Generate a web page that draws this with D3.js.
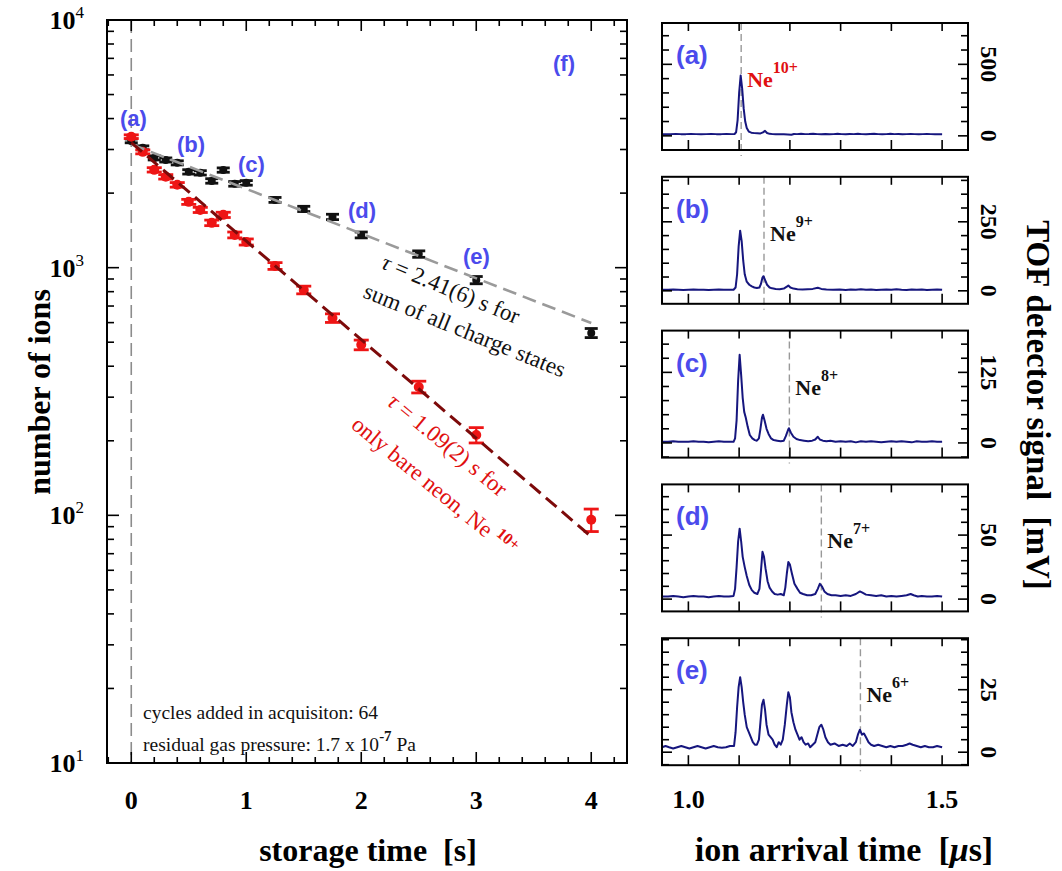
<!DOCTYPE html>
<html><head><meta charset="utf-8">
<script src="https://cdn.jsdelivr.net/npm/d3@7"></script>
<style>body{margin:0;background:#fff}svg{display:block}text{white-space:pre}</style>
</head><body>
<svg id="c" width="1062" height="871"></svg>
<script>
// ---------- DATA ----------
const sumTimes  = [0, 0.1, 0.2, 0.3, 0.4, 0.5, 0.6, 0.7, 0.8, 0.9, 1.0, 1.25, 1.5, 1.75, 2.0, 2.5, 3.0, 4.0];
const sumCounts = [3250, 3048, 2775, 2722, 2650, 2437, 2415, 2240, 2478, 2180, 2200, 1878, 1727, 1603, 1356, 1135, 891, 545];
const sumErrors = [57, 55, 53, 52, 51, 49, 49, 47, 50, 47, 47, 43, 42, 40, 37, 34, 30, 23];
const bareTimes  = [0, 0.1, 0.2, 0.3, 0.4, 0.5, 0.6, 0.7, 0.8, 0.9, 1.0, 1.25, 1.5, 1.75, 2.0, 2.5, 3.0, 4.0];
const bareCounts = [3380, 2935, 2483, 2327, 2160, 1844, 1711, 1517, 1634, 1356, 1270, 1016, 813, 626, 488, 330, 211, 96];
const bareErrors = [58, 54, 50, 48, 46, 43, 41, 39, 40, 37, 36, 32, 29, 25, 22, 18, 15, 10];
const sumFitTimes = [0, 4], sumFitCounts = [3150, 598];
const bareFitTimes = [0, 4], bareFitCounts = [3200, 82];
const xMajorTicks = [0, 1, 2, 3, 4];
const yDecades = [10, 100, 1000, 10000];
const yDecadeExp = ["1", "2", "3", "4"];
const mainLetters = ["(a)", "(b)", "(c)", "(d)", "(e)", "(f)"];

const panelLetters = ["(a)", "(b)", "(c)", "(d)", "(e)"];
const ionCharge = ["10+", "9+", "8+", "7+", "6+"];
const ionColors = ["#e01010", "#111", "#111", "#111", "#111"];
const ionArrival = [1.104, 1.149, 1.199, 1.262, 1.339];
const panelLabelValue = [500, 250, 125, 50, 25];
const panelMinorStep = [100, 50, 25, 10, 5];
const panelYDomain = [[-99, 789], [-47, 413], [-26, 199], [-9.6, 89.6], [-5.2, 45.6]];
const tofTicks = [1.0, 1.1, 1.2, 1.3, 1.4, 1.5];
const tofTickLabels = ["1.0", "", "", "", "", "1.5"];

const traceA = [[0.948,12],[0.955,11],[0.965,12],[0.975,13],[0.985,12],[0.995,12],[1.005,13],[1.015,12],[1.025,11],[1.035,12],[1.045,13],[1.055,12],[1.065,12],[1.075,13],[1.085,12],[1.091,13],[1.094,25],[1.097,110],[1.100,300],[1.103,422],[1.106,330],[1.109,190],[1.112,100],[1.115,55],[1.119,30],[1.124,22],[1.130,19],[1.136,18],[1.142,17],[1.147,24],[1.151,35],[1.155,20],[1.160,14],[1.166,12],[1.172,11],[1.180,12],[1.188,11],[1.196,10],[1.203,8],[1.208,13],[1.214,12],[1.222,14],[1.230,12],[1.238,13],[1.246,15],[1.254,12],[1.262,11],[1.270,13],[1.278,11],[1.286,12],[1.294,14],[1.302,12],[1.310,11],[1.318,13],[1.326,12],[1.334,14],[1.342,12],[1.350,11],[1.358,13],[1.366,14],[1.374,12],[1.382,11],[1.390,12],[1.398,14],[1.406,12],[1.414,13],[1.422,11],[1.430,12],[1.438,13],[1.446,12],[1.454,11],[1.462,12],[1.470,13],[1.478,12],[1.486,11],[1.494,12],[1.500,12]];
const traceB = [[0.948,4],[0.96,4],[0.97,5],[0.98,4],[0.99,3],[1.00,4],[1.01,5],[1.02,4],[1.03,4],[1.04,3],[1.05,4],[1.06,5],[1.07,4],[1.08,4],[1.089,4],[1.093,12],[1.096,60],[1.099,160],[1.102,218],[1.105,180],[1.108,110],[1.111,60],[1.115,33],[1.120,22],[1.125,16],[1.130,12],[1.135,10],[1.140,12],[1.143,25],[1.146,48],[1.148,53],[1.151,40],[1.155,22],[1.160,12],[1.165,9],[1.172,7],[1.180,6],[1.188,8],[1.194,15],[1.197,19],[1.201,12],[1.207,8],[1.215,6],[1.225,5],[1.235,6],[1.245,7],[1.255,11],[1.262,7],[1.272,5],[1.285,4],[1.298,5],[1.31,3],[1.32,5],[1.33,4],[1.34,6],[1.35,4],[1.36,5],[1.37,3],[1.38,4],[1.39,5],[1.40,4],[1.41,6],[1.42,4],[1.43,3],[1.44,5],[1.45,4],[1.46,5],[1.47,3],[1.48,4],[1.49,5],[1.50,4]];
const traceC = [[0.948,2],[0.96,2],[0.97,3],[0.98,2],[0.99,2],[1.00,2],[1.01,3],[1.02,2],[1.03,2],[1.04,1],[1.05,2],[1.06,3],[1.07,2],[1.08,2],[1.089,2],[1.092,8],[1.095,40],[1.098,110],[1.101,156],[1.104,120],[1.107,80],[1.110,55],[1.113,45],[1.117,28],[1.121,14],[1.126,8],[1.131,5],[1.135,4],[1.139,8],[1.142,25],[1.145,45],[1.147,50],[1.150,40],[1.154,25],[1.158,16],[1.163,8],[1.168,5],[1.175,4],[1.182,3],[1.188,4],[1.192,12],[1.196,22],[1.198,26],[1.202,18],[1.207,11],[1.213,7],[1.220,5],[1.228,4],[1.236,3],[1.244,4],[1.250,6],[1.255,11],[1.259,6],[1.265,4],[1.272,3],[1.28,4],[1.29,2],[1.30,3],[1.31,2],[1.32,3],[1.33,1],[1.34,3],[1.35,2],[1.36,3],[1.37,2],[1.38,1],[1.39,2],[1.40,3],[1.41,2],[1.42,3],[1.43,2],[1.44,1],[1.45,3],[1.46,2],[1.47,2],[1.48,3],[1.49,2],[1.50,2]];
const traceD = [[0.948,2],[0.96,2],[0.97,2.5],[0.98,2],[0.99,1.5],[1.00,2],[1.01,2.5],[1.02,2],[1.03,2],[1.04,1.5],[1.05,2],[1.06,2.5],[1.07,2],[1.08,2],[1.089,2.5],[1.092,8],[1.095,25],[1.098,45],[1.101,55],[1.104,45],[1.107,33],[1.111,25],[1.115,18],[1.120,11],[1.125,7],[1.130,5],[1.136,4],[1.140,8],[1.143,22],[1.146,37],[1.149,33],[1.152,24],[1.156,14],[1.160,9],[1.165,6],[1.170,4],[1.176,3.5],[1.182,4],[1.188,3],[1.191,9],[1.194,20],[1.197,29],[1.200,27],[1.204,20],[1.209,12],[1.215,8],[1.220,5],[1.226,4],[1.234,3],[1.242,3],[1.250,4],[1.255,8],[1.259,12],[1.263,10],[1.268,6],[1.274,4],[1.282,3],[1.290,3],[1.300,2.5],[1.310,3],[1.320,2.5],[1.330,4],[1.338,6],[1.343,5],[1.350,3.5],[1.360,3],[1.370,2.5],[1.380,3],[1.390,2],[1.400,2.5],[1.410,2],[1.420,2.5],[1.430,3],[1.438,4],[1.444,3],[1.452,2],[1.460,2.5],[1.470,2],[1.480,2],[1.490,2.5],[1.500,2]];
const traceE = [[0.948,2],[0.955,2.5],[0.962,2],[0.970,1.5],[0.978,2],[0.986,2.5],[0.994,2],[1.002,1.5],[1.010,2],[1.018,2.5],[1.026,2],[1.034,1.5],[1.042,2],[1.050,2.5],[1.058,2],[1.066,1.8],[1.074,2],[1.082,2.5],[1.090,2.5],[1.093,8],[1.096,18],[1.099,26],[1.102,30],[1.105,26],[1.108,20],[1.111,15],[1.115,10],[1.119,8],[1.123,6],[1.127,4],[1.131,3],[1.135,3],[1.139,5],[1.142,12],[1.145,19],[1.148,21],[1.151,17],[1.154,11],[1.158,7],[1.162,6],[1.166,5],[1.170,3],[1.174,2],[1.178,4],[1.182,3],[1.186,5],[1.190,11],[1.194,19],[1.197,24],[1.200,22],[1.203,16],[1.207,12],[1.211,9],[1.215,7],[1.219,5],[1.223,6],[1.227,4],[1.231,3],[1.236,3.5],[1.240,2],[1.245,3],[1.250,4],[1.254,7],[1.258,10],[1.262,11],[1.266,9],[1.270,6],[1.275,4],[1.280,3],[1.288,3.5],[1.296,2.5],[1.304,3],[1.312,2.5],[1.318,3.5],[1.324,2.5],[1.330,4],[1.334,7],[1.338,9],[1.342,7],[1.346,7.5],[1.350,6],[1.355,4],[1.360,3],[1.366,2.5],[1.374,3],[1.382,2.5],[1.390,2],[1.398,2.5],[1.406,2],[1.414,2.5],[1.422,2.5],[1.430,3],[1.436,3.5],[1.442,3],[1.450,2.5],[1.458,2],[1.466,2.5],[1.474,2],[1.482,2],[1.490,2.5],[1.500,2]];
const traces = [traceA, traceB, traceC, traceD, traceE];

// ---------- DRAW ----------
const svg = d3.select('#c');
const serif = "'Liberation Serif','Times New Roman',serif";
const sans = "'Liberation Sans',Arial,sans-serif";
const blue = '#4b4bec';

// ===== main plot =====
const M = {l:107, t:20, r:627, b:763};
const x = d3.scaleLinear().domain([-0.211, 4.311]).range([M.l, M.r]);
const y = d3.scaleLog().domain([10, 10000]).range([M.b, M.t]);
const g = svg.append('g');

g.append('line').attr('x1', x(0)).attr('x2', x(0)).attr('y1', M.t).attr('y2', M.b)
  .attr('stroke', '#8c8c8c').attr('stroke-width', 1.6).attr('stroke-dasharray', '13,6');

function drawPoints(ts, ns, es, color, r, capW) {
  const pts = d3.range(ts.length).map(i => ({t: ts[i], n: ns[i], e: es[i]}));
  const gg = g.append('g');
  const sel = gg.selectAll('g').data(pts).join('g');
  sel.append('line').attr('x1', d => x(d.t)).attr('x2', d => x(d.t))
    .attr('y1', d => y(d.n - d.e)).attr('y2', d => y(d.n + d.e))
    .attr('stroke', color).attr('stroke-width', 2.2);
  [-1, 1].forEach(s => sel.append('line')
    .attr('x1', d => x(d.t) - capW / 2).attr('x2', d => x(d.t) + capW / 2)
    .attr('y1', d => y(d.n + s * d.e)).attr('y2', d => y(d.n + s * d.e))
    .attr('stroke', color).attr('stroke-width', 2.8));
  sel.append('circle').attr('cx', d => x(d.t)).attr('cy', d => y(d.n)).attr('r', r).attr('fill', color);
}
drawPoints(sumTimes, sumCounts, sumErrors, '#111', 4, 13);
drawPoints(bareTimes, bareCounts, bareErrors, '#ee1515', 5, 15);

const fline = d3.line().x(d => x(d[0])).y(d => y(d[1]));
g.append('path').datum(d3.zip(sumFitTimes, sumFitCounts)).attr('d', fline)
  .attr('fill', 'none').attr('stroke', '#9a9a9a').attr('stroke-width', 2.6).attr('stroke-dasharray', '14,7');
g.append('path').datum(d3.zip(bareFitTimes, bareFitCounts)).attr('d', fline)
  .attr('fill', 'none').attr('stroke', '#7d0a0a').attr('stroke-width', 3).attr('stroke-dasharray', '14,7');

// frame
g.append('rect').attr('x', M.l).attr('y', M.t).attr('width', M.r - M.l).attr('height', M.b - M.t)
  .attr('fill', 'none').attr('stroke', '#000').attr('stroke-width', 2);

// x ticks
const xMinor = d3.range(-0.2, 4.31, 0.2).map(v => Math.round(v * 10) / 10);
xMinor.forEach(v => {
  const major = xMajorTicks.includes(v);
  const L = major ? 11 : 6;
  g.append('line').attr('x1', x(v)).attr('x2', x(v)).attr('y1', M.b).attr('y2', M.b - L).attr('stroke', '#000').attr('stroke-width', 1.6);
  g.append('line').attr('x1', x(v)).attr('x2', x(v)).attr('y1', M.t).attr('y2', M.t + L).attr('stroke', '#000').attr('stroke-width', 1.6);
});
g.selectAll('.xl').data(xMajorTicks).join('text')
  .attr('x', d => x(d)).attr('y', 809).attr('text-anchor', 'middle')
  .attr('font-family', serif).attr('font-weight', 'bold').attr('font-size', 26).text(d => d);

// y ticks
yDecades.forEach((d, i) => {
  [M.l, M.r].forEach((xx, k) => {
    const s = k === 0 ? 1 : -1;
    g.append('line').attr('x1', xx).attr('x2', xx + s * 12).attr('y1', y(d)).attr('y2', y(d)).attr('stroke', '#000').attr('stroke-width', 1.6);
    if (d < 10000) d3.range(2, 10).forEach(m => {
      g.append('line').attr('x1', xx).attr('x2', xx + s * 7).attr('y1', y(d * m)).attr('y2', y(d * m)).attr('stroke', '#000').attr('stroke-width', 1.6);
    });
  });
  const t = g.append('text').attr('x', 84).attr('y', y(d) + 9).attr('text-anchor', 'end')
    .attr('font-family', serif).attr('font-weight', 'bold').attr('font-size', 26);
  t.append('tspan').text('10');
  t.append('tspan').attr('dy', -11).attr('font-size', 17).attr('font-weight', 'normal').text(yDecadeExp[i]);
});

// axis titles
g.append('text').attr('transform', 'translate(50,392) rotate(-90)').attr('text-anchor', 'middle')
  .attr('font-family', serif).attr('font-weight', 'bold').attr('font-size', 32).text('number of ions');
g.append('text').attr('x', 368).attr('y', 861).attr('text-anchor', 'middle')
  .attr('font-family', serif).attr('font-weight', 'bold').attr('font-size', 32).text('storage time  [s]');

// blue letters
const mainLetterPos = [[120,126],[177,152],[238,172],[348,218],[463,264],[553,71]];
mainLetters.forEach((l, i) => g.append('text').attr('x', mainLetterPos[i][0]).attr('y', mainLetterPos[i][1])
  .attr('font-family', sans).attr('font-weight', 'bold').attr('font-size', 22).attr('fill', blue).text(l));

// annotations
function tauText(tx, ty, ang, color, parts, size) {
  const t = g.append('text').attr('transform', `translate(${tx},${ty}) rotate(${ang})`)
    .attr('font-family', serif).attr('font-size', size).attr('fill', color);
  parts.forEach(p => {
    const s = t.append('tspan').text(p.s);
    if (p.it) s.attr('font-style', 'italic');
    if (p.dy) s.attr('dy', p.dy);
    if (p.dx) s.attr('dx', p.dx);
    if (p.fs) s.attr('font-size', p.fs);
    if (p.b) s.attr('font-weight', 'bold');
  });
}
tauText(380, 268, 22.5, '#111', [{s:'τ', it:true}, {s:' = 2.41(6) s for'}], 23);
tauText(362, 297, 22, '#111', [{s:'sum of all charge states'}], 23);
tauText(386, 404, 39.5, '#e01010', [{s:'τ', it:true}, {s:' = 1.09(2) s for'}], 23);
tauText(350, 427, 39.5, '#e01010', [{s:'only bare neon, Ne'}, {s:'10+', b:true, fs:16, dy:-9, dx:6}], 23);

g.append('text').attr('x', 143).attr('y', 719).attr('font-family', serif).attr('font-size', 19.5).attr('fill', '#111')
  .text('cycles added in acquisiton: 64');
const note2 = g.append('text').attr('x', 143).attr('y', 751).attr('font-family', serif).attr('font-size', 19.5).attr('fill', '#111');
note2.append('tspan').text('residual gas pressure: 1.7 x 10');
note2.append('tspan').attr('dy', -10).attr('font-size', 15).attr('font-weight', 'bold').text('-7');
note2.append('tspan').attr('dy', 10).text(' Pa');

// ===== right panels =====
const PL = 662, PR = 968, PH = 127;
const xp = d3.scaleLinear().domain([0.948, 1.551]).range([PL, PR]);
const tline = d3.line().x(d => xp(d[0]));
for (let i = 0; i < 5; i++) {
  const top = 23 + i * 153.8, bot = top + PH;
  const yp = d3.scaleLinear().domain(panelYDomain[i]).range([bot, top]);
  const pg = svg.append('g');
  pg.append('line').attr('x1', xp(ionArrival[i])).attr('x2', xp(ionArrival[i])).attr('y1', top).attr('y2', bot + 6)
    .attr('stroke', '#999').attr('stroke-width', 1.4).attr('stroke-dasharray', '7,4');
  pg.append('path').datum(traces[i]).attr('d', tline.y(d => yp(d[1])))
    .attr('fill', 'none').attr('stroke', '#16167e').attr('stroke-width', 2).attr('stroke-linejoin', 'round');
  pg.append('rect').attr('x', PL).attr('y', top).attr('width', PR - PL).attr('height', PH)
    .attr('fill', 'none').attr('stroke', '#000').attr('stroke-width', 2);
  tofTicks.forEach(v => {
    pg.append('line').attr('x1', xp(v)).attr('x2', xp(v)).attr('y1', bot).attr('y2', bot - 10).attr('stroke', '#000').attr('stroke-width', 1.6);
    pg.append('line').attr('x1', xp(v)).attr('x2', xp(v)).attr('y1', top).attr('y2', top + 8).attr('stroke', '#000').attr('stroke-width', 1.6);
  });
  const step = panelMinorStep[i];
  const yt = d3.range(Math.ceil(panelYDomain[i][0] / step) * step, panelYDomain[i][1], step);
  yt.forEach(v => {
    const major = (v === 0 || v === panelLabelValue[i]);
    const L = major ? 10 : 7;
    pg.append('line').attr('x1', PL).attr('x2', PL + L).attr('y1', yp(v)).attr('y2', yp(v)).attr('stroke', '#000').attr('stroke-width', 1.6);
    pg.append('line').attr('x1', PR).attr('x2', PR - L).attr('y1', yp(v)).attr('y2', yp(v)).attr('stroke', '#000').attr('stroke-width', 1.6);
  });
  [0, panelLabelValue[i]].forEach(v => {
    pg.append('text').attr('transform', `translate(981,${yp(v)}) rotate(90)`).attr('text-anchor', 'middle')
      .attr('font-family', serif).attr('font-weight', 'bold').attr('font-size', 24).text(v);
  });
  pg.append('text').attr('x', 676).attr('y', top + 41).attr('font-family', sans).attr('font-weight', 'bold')
    .attr('font-size', 26).attr('fill', blue).text(panelLetters[i]);
  const lbl = pg.append('text').attr('x', xp(ionArrival[i]) + 6).attr('y', top + 64)
    .attr('font-family', serif).attr('font-weight', 'bold').attr('font-size', 22).attr('fill', ionColors[i]);
  lbl.append('tspan').text('Ne');
  lbl.append('tspan').attr('dy', -14).attr('font-size', 16).text(ionCharge[i]);
  if (i === 4) {
    tofTicks.forEach((v, k) => {
      if (tofTickLabels[k]) pg.append('text').attr('x', xp(v)).attr('y', 808).attr('text-anchor', 'middle')
        .attr('font-family', serif).attr('font-weight', 'bold').attr('font-size', 26).text(tofTickLabels[k]);
    });
  }
}
svg.append('text').attr('transform', 'translate(1027,405) rotate(90)').attr('text-anchor', 'middle')
  .attr('font-family', serif).attr('font-weight', 'bold').attr('font-size', 33).text('TOF detector signal  [mV]');
const xt = svg.append('text').attr('x', 844).attr('y', 861).attr('text-anchor', 'middle')
  .attr('font-family', serif).attr('font-weight', 'bold').attr('font-size', 34);
xt.append('tspan').text('ion arrival time  [');
xt.append('tspan').attr('font-style', 'italic').text('μ');
xt.append('tspan').text('s]');
</script>
</body></html>
